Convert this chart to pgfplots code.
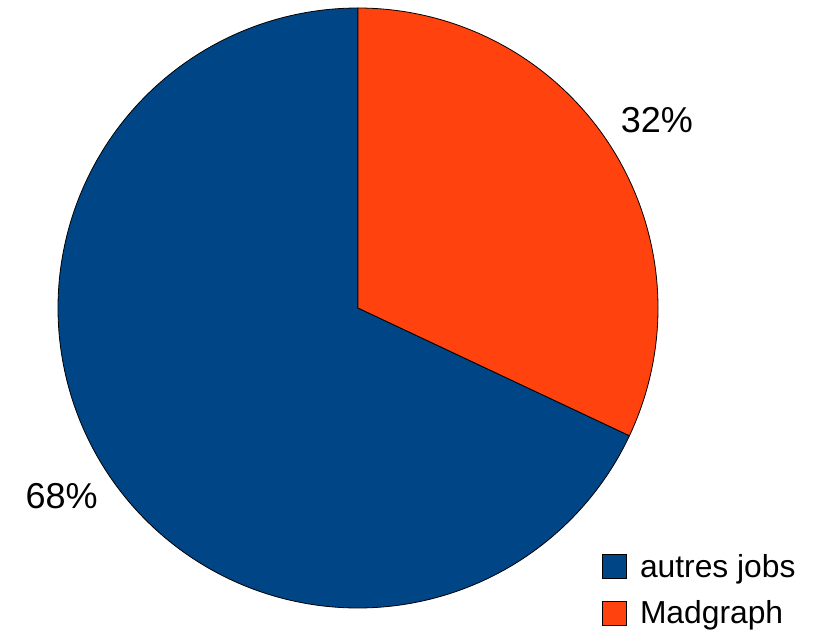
\documentclass[border=0pt]{standalone}
\usepackage{pgfplots}
\pgfplotsset{compat=1.18}
\usepackage{fontspec}
\setmainfont{Liberation Sans}

\definecolor{pieblue}{HTML}{004586}
\definecolor{pieorange}{HTML}{FF420E}

% shares in percent
\def\madgraph{32}
\def\autres{68}

\begin{document}
\begin{tikzpicture}
\path[use as bounding box] (0,0) rectangle (813pt,630pt);
\pgfmathsetmacro{\startM}{90-\madgraph*3.6}
\pgfmathsetmacro{\endA}{90+\autres*3.6}
\pgfmathsetmacro{\midM}{90-\madgraph*1.8}
\pgfmathsetmacro{\midA}{90+\autres*1.8}
\begin{axis}[
  at={(0pt,0pt)}, anchor=south west,
  x=300pt, y=300pt,
  xmin=-1.19333, xmax=1.51667,
  ymin=-1.07333, ymax=1.02667,
  hide axis, clip=false,
  legend style={at={(602/813,78/630)}, anchor=north west, draw=none, fill=none,
    inner sep=0pt, row sep=18pt, font=\fontsize{31.8}{36}\selectfont,
    cells={anchor=west}},
  legend image code/.code={\draw[#1,draw=black,line width=0.8pt] (0pt,-12pt) rectangle (24pt,12pt);
    \path (35pt,0pt);},
]
\addplot[fill=pieblue, draw=black, line width=0.8pt, domain=90:\endA, samples=240, smooth]
  ({cos(x)},{sin(x)}) -- (axis cs:0,0) -- cycle;
\addlegendentry{autres jobs}
\addplot[fill=pieorange, draw=black, line width=0.8pt, domain=\startM:90, samples=120, smooth]
  ({cos(x)},{sin(x)}) -- (axis cs:0,0) -- cycle;
\addlegendentry{Madgraph}
\node[font=\fontsize{36}{40}\selectfont] at (axis cs:{1.18*cos(\midM)},{1.17*sin(\midM)}) {\madgraph\%};
\node[font=\fontsize{36}{40}\selectfont] at (axis cs:{1.17*cos(\midA)},{1.17*sin(\midA)}) {\autres\%};
\end{axis}
\end{tikzpicture}
\end{document}
